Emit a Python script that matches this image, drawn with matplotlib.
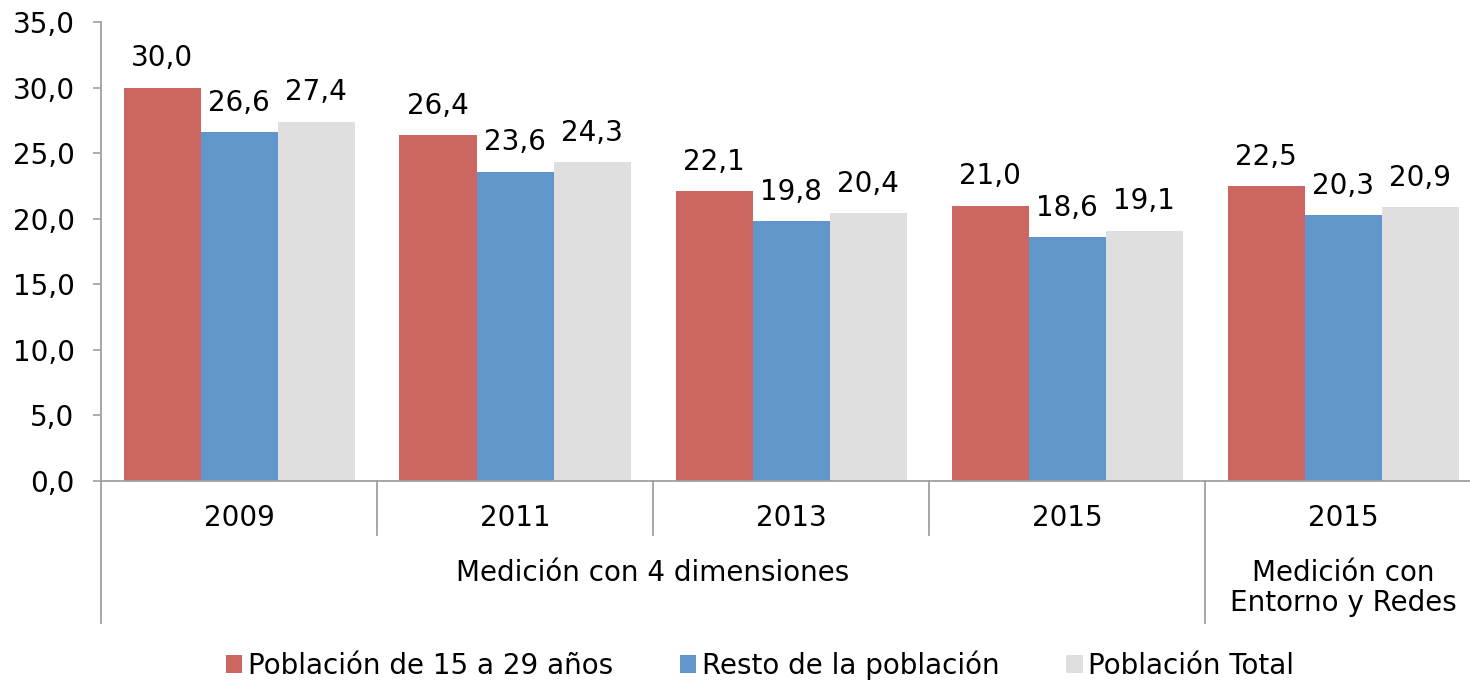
import matplotlib
matplotlib.use("Agg")
import matplotlib.pyplot as plt
import matplotlib.transforms as mtransforms
from matplotlib.patches import Patch

plt.rcParams['font.family'] = ['DejaVu Sans']

years = ["2009", "2011", "2013", "2015", "2015"]
series_names = ["Población de 15 a 29 años", "Resto de la población", "Población Total"]
jovenes = [30.0, 26.4, 22.1, 21.0, 22.5]
resto = [26.6, 23.6, 19.8, 18.6, 20.3]
total = [27.4, 24.3, 20.4, 19.1, 20.9]
group_labels = ["Medición con 4 dimensiones", "Medición con\nEntorno y Redes"]
yticks = [0, 5, 10, 15, 20, 25, 30, 35]

colors = ["#CC6660", "#6096C9", "#DFDFDF"]
FS = 20

W, H = 1470, 680
fig = plt.figure(figsize=(W / 100, H / 100), dpi=100)
left, right, bottom, top = 101, 1481, 481, 22
ax = fig.add_axes([left / W, 1 - bottom / H, (right - left) / W, (bottom - top) / H])

bw = 77 / 276
offsets = [-bw, 0, bw]
for vals, col, off in zip([jovenes, resto, total], colors, offsets):
    xs = [i + 0.5 + off for i in range(len(vals))]
    ax.bar(xs, vals, width=bw, color=col, edgecolor='none', zorder=2)
    for x, v in zip(xs, vals):
        ax.annotate(f"{v:.1f}".replace(".", ","), (x, v), xytext=(0, 11),
                    textcoords='offset points', ha='center', va='bottom', fontsize=FS)

ax.set_xlim(0, 5)
ax.set_ylim(0, 35)
ax.set_yticks(yticks)
ax.set_yticklabels([f"{t:.1f}".replace(".", ",") for t in yticks], fontsize=FS)
ax.tick_params(axis='y', length=6, width=1.2, color='#A0A0A0', pad=13)
ax.set_xticks([])
for s in ['top', 'right']:
    ax.spines[s].set_visible(False)
for s in ['left', 'bottom']:
    ax.spines[s].set_color('#A0A0A0')
    ax.spines[s].set_linewidth(1.3)

trans = mtransforms.blended_transform_factory(ax.transData, ax.transAxes)
ah = bottom - top
short = -54 / ah
long_ = -142 / ah
for xb in range(0, 5):
    y1 = long_ if xb in (0, 4) else short
    ax.plot([xb, xb], [0, y1], transform=trans, color='#A0A0A0', lw=1.3, clip_on=False)

for i, yr in enumerate(years):
    ax.text(i + 0.5, -37 / ah, yr, transform=trans, ha='center', va='center', fontsize=FS)

ax.text(2.0, -92 / ah, group_labels[0], transform=trans, ha='center', va='center', fontsize=FS)
ax.text(4.5, -107 / ah, group_labels[1], transform=trans, ha='center', va='center',
        fontsize=FS, linespacing=1.1)

handles = [Patch(facecolor=c, edgecolor='none') for c in colors]
fig.legend(handles, series_names, loc='center', bbox_to_anchor=(0.517, 1 - 665 / H),
           ncol=3, frameon=False, fontsize=FS, handlelength=0.6, handleheight=0.6,
           handletextpad=0.2, columnspacing=2.4, borderaxespad=0)

fig.savefig("out.png", dpi=100)
